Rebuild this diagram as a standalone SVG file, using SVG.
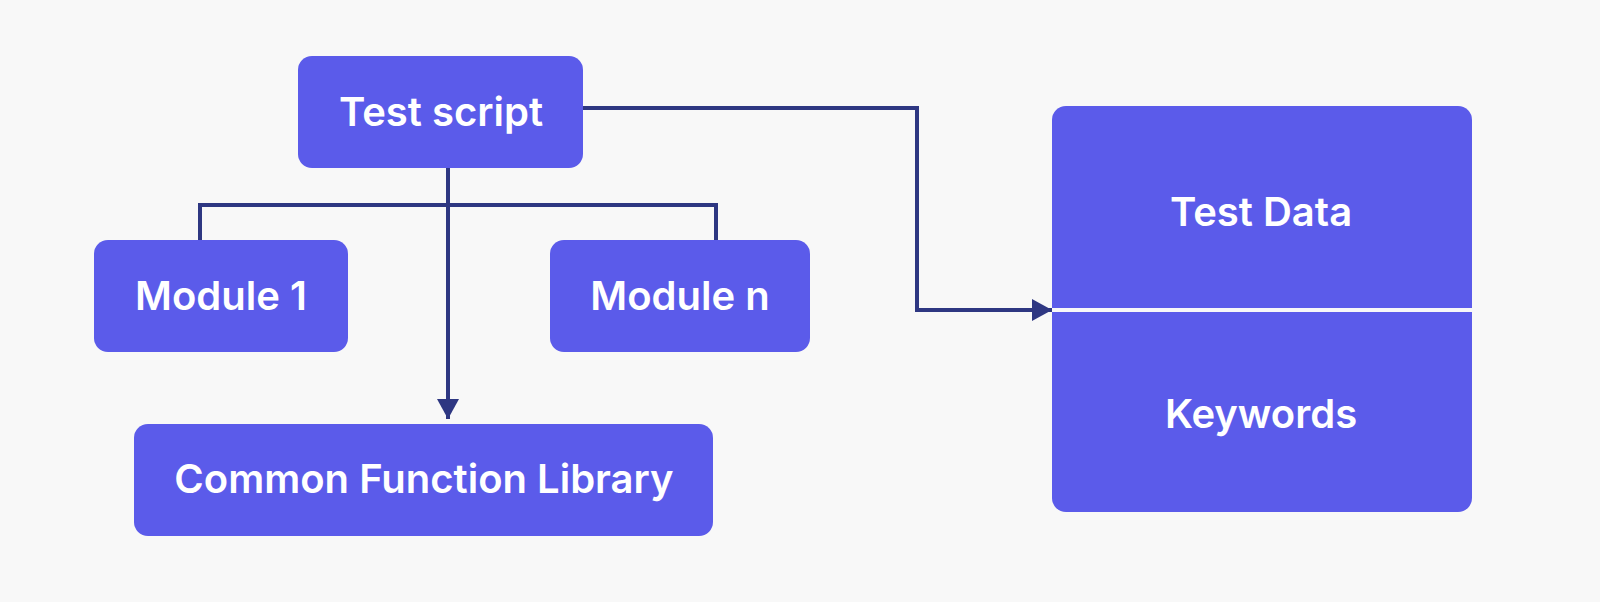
<svg xmlns="http://www.w3.org/2000/svg" width="1600" height="602" viewBox="0 0 1600 602">
  <style>
    .box { fill: #5B5BEA; }
    .lbl { fill: #FFFFFF; font-family: Inter, "Noto Sans", "Liberation Sans", sans-serif; font-weight: 600; font-size: 40px; text-anchor: middle; }
    .conn { fill: none; stroke: #2E3782; stroke-width: 4; }
  </style>
  <defs>
    <marker id="arrow" viewBox="0 0 20 22" refX="20" refY="11" markerWidth="20" markerHeight="22" markerUnits="userSpaceOnUse" orient="auto">
      <path d="M0,0 L20,11 L0,22 Z" fill="#2E3782"/>
    </marker>
  </defs>
  <rect x="0" y="0" width="1600" height="602" fill="#F8F8F8"/>

  <g id="test-script">
    <rect class="box" x="298" y="56" width="285" height="112" rx="14"/>
    <text class="lbl" x="441" y="126">Test script</text>
  </g>
  <g id="module-1">
    <rect class="box" x="94" y="240" width="254" height="112" rx="14"/>
    <text class="lbl" x="221" y="310">Module 1</text>
  </g>
  <g id="module-n">
    <rect class="box" x="550" y="240" width="260" height="112" rx="14"/>
    <text class="lbl" x="680" y="310">Module n</text>
  </g>
  <g id="common-function-library">
    <rect class="box" x="134" y="424" width="579" height="112" rx="14"/>
    <text class="lbl" x="424" y="493">Common Function Library</text>
  </g>
  <g id="data-keywords">
    <rect class="box" x="1052" y="106" width="420" height="406" rx="14"/>
    <line x1="1052" y1="310" x2="1472" y2="310" stroke="#F8F8F8" stroke-width="4"/>
    <text class="lbl" x="1261" y="226">Test Data</text>
    <text class="lbl" x="1261" y="428">Keywords</text>
  </g>

  <g id="connectors">
    <path class="conn" d="M448,168 V419" marker-end="url(#arrow)"/>
    <path class="conn" d="M200,240 V205 H716 V240"/>
    <path class="conn" d="M583,108 H917 V310 H1052" marker-end="url(#arrow)"/>
  </g>
</svg>
